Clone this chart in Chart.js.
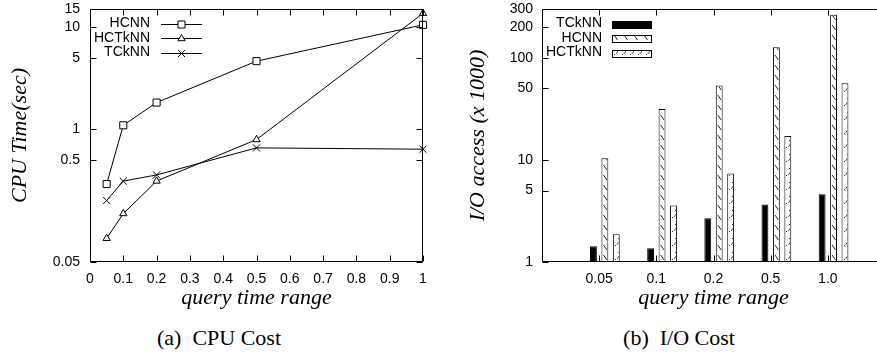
<!DOCTYPE html>
<html>
<head>
<meta charset="utf-8">
<script src="https://cdn.jsdelivr.net/npm/chart.js@4.4.1/dist/chart.umd.min.js"></script>
<style>
    html, body { margin: 0; padding: 0; background: #fff; }
    #quadro { position: relative; width: 877px; height: 356px; overflow: hidden; background: #fff; }
    #quadro canvas { position: absolute; top: 0; }
    #graficoCpu { left: 0; }
    #graficoIo { left: 440px; }
    .legenda {
        position: absolute; top: 325px; line-height: 26px;
        font-family: 'Liberation Serif', 'Times New Roman', serif; font-size: 22px; color: #000;
        white-space: pre; transform: translateX(-50%);
    }
</style>
</head>
<body>
<div id="quadro">
    <canvas id="graficoCpu" width="440" height="312"></canvas>
    <canvas id="graficoIo" width="460" height="312"></canvas>
    <div class="legenda" style="left: 219px;">(a)  CPU Cost</div>
    <div class="legenda" style="left: 679px;">(b)  I/O Cost</div>
</div>
<script>
// (a) CPU Cost -- tempo de CPU por faixa de consulta
const faixasCpu = [0.05, 0.1, 0.2, 0.5, 1];
const cpuHCNN = [0.29, 1.09, 1.82, 4.63, 10.5];
const cpuHCTkNN = [0.085, 0.149, 0.31, 0.79, 13.6];
const cpuTCkNN = [0.20, 0.31, 0.356, 0.655, 0.636];
const ticksCpuX = [0, 0.1, 0.2, 0.3, 0.4, 0.5, 0.6, 0.7, 0.8, 0.9, 1];
const ticksCpuY = [0.05, 0.5, 1, 5, 10, 15];

// (b) I/O Cost -- acessos (x 1000)
const faixasIo = ['0.05', '0.1', '0.2', '0.5', '1.0'];
const ioTCkNN = [1.43, 1.36, 2.68, 3.65, 4.61];
const ioHCNN = [10.4, 31.4, 53.6, 127, 263];
const ioHCTkNN = [1.87, 3.57, 7.36, 17.1, 56.1];
const ticksIoY = [1, 5, 10, 50, 100, 200, 300];

(function () {
    const fonteEixo = { family: "'Liberation Sans', Arial, sans-serif", size: 14 };
    const fonteTitulo = { family: "'Liberation Serif', 'Times New Roman', serif", size: 22, style: 'italic' };
    const deslocBarras = 0.1;

    // hachuras desenhadas por barra, ancoradas no canto da propria barra
    function desenharHachura(ctx, tipo, x0, y0, w, h) {
        if (w <= 0 || h <= 0) return;
        ctx.save();
        ctx.beginPath();
        ctx.rect(x0, y0, w, h);
        ctx.clip();
        ctx.lineWidth = 1;
        if (tipo === 'barra') {
            ctx.strokeStyle = '#222';
            ctx.beginPath();
            for (let yy = y0 + h - 2; yy > y0 - 10; yy -= 10) {
                for (let xx = x0 + 1; xx < x0 + w; xx += 10) {
                    ctx.moveTo(xx, yy - 5);
                    ctx.lineTo(xx + 3.5, yy);
                }
            }
            ctx.stroke();
        } else if (tipo === 'pontos') {
            ctx.strokeStyle = '#555';
            ctx.fillStyle = '#333';
            ctx.beginPath();
            let linha = 0;
            for (let yy = y0 + h - 2; yy > y0 - 8; yy -= 7, linha++) {
                for (let xx = x0 + (linha % 2 ? 3 : 0); xx < x0 + w; xx += 8) {
                    ctx.fillRect(Math.round(xx + 1), Math.round(yy - 1), 1, 1);
                    ctx.moveTo(xx + 3, yy - 1);
                    ctx.lineTo(xx + 5, yy - 4);
                }
            }
            ctx.stroke();
        }
        ctx.restore();
    }

    function marcador(ctx, tipo, x, y) {
        ctx.beginPath();
        if (tipo === 'rect') {
            ctx.rect(x - 3.5, y - 3.5, 7, 7);
            ctx.fillStyle = '#fff'; ctx.fill(); ctx.stroke();
        } else if (tipo === 'triangle') {
            ctx.moveTo(x, y - 4); ctx.lineTo(x + 3.6, y + 2.2); ctx.lineTo(x - 3.6, y + 2.2); ctx.closePath();
            ctx.fillStyle = '#fff'; ctx.fill(); ctx.stroke();
        } else {
            ctx.moveTo(x - 3.5, y - 3.5); ctx.lineTo(x + 3.5, y + 3.5);
            ctx.moveTo(x + 3.5, y - 3.5); ctx.lineTo(x - 3.5, y + 3.5);
            ctx.stroke();
        }
    }

    // moldura do grafico com marcas de escala para dentro (estilo gnuplot)
    function molduraPlugin(espelharY) {
        return {
            id: 'moldura',
            afterDatasetsDraw(chart) {
                const { ctx, chartArea: a, scales } = chart;
                ctx.save();
                ctx.strokeStyle = '#000';
                ctx.lineWidth = 1;
                const l = Math.round(a.left) + 0.5, r = Math.round(a.right) - 0.5;
                const t = Math.round(a.top) + 0.5, b = Math.round(a.bottom) - 0.5;
                ctx.beginPath();
                ctx.rect(l, t, r - l, b - t);
                scales.x.ticks.forEach(tk => {
                    const x = Math.round(scales.x.getPixelForValue(tk.value)) + 0.5;
                    ctx.moveTo(x, b); ctx.lineTo(x, b - 6);
                    ctx.moveTo(x, t); ctx.lineTo(x, t + 6);
                });
                scales.y.ticks.forEach(tk => {
                    const y = Math.round(scales.y.getPixelForValue(tk.value)) + 0.5;
                    ctx.moveTo(l, y); ctx.lineTo(l + 6, y);
                    if (espelharY) { ctx.moveTo(r, y); ctx.lineTo(r - 6, y); }
                });
                ctx.stroke();
                ctx.restore();
            }
        };
    }

    const hachuraPlugin = {
        id: 'hachuraBarras',
        afterDatasetsDraw(chart) {
            const ctx = chart.ctx;
            chart.data.datasets.forEach((ds, i) => {
                if (!ds.hachura) return;
                chart.getDatasetMeta(i).data.forEach(bar => {
                    const { x, y, base, width } = bar.getProps(['x', 'y', 'base', 'width']);
                    desenharHachura(ctx, ds.hachura, x - width / 2 + 1, y + 1, width - 2, base - y - 1);
                });
            });
        }
    };

    function legendaPlugin(desenhaAmostra, xTexto) {
        return {
            id: 'legendaGnuplot',
            afterDraw(chart) {
                const ctx = chart.ctx;
                ctx.save();
                ctx.font = "14px 'Liberation Sans', Arial, sans-serif";
                ctx.textAlign = 'right';
                ctx.textBaseline = 'middle';
                chart.data.datasets.forEach((ds, i) => {
                    const y = 23.5 + i * 14.5;
                    ctx.fillStyle = '#000';
                    ctx.fillText(ds.label, xTexto, y);
                    desenhaAmostra(ctx, ds, y);
                });
                ctx.restore();
            }
        };
    }

    function escalaComum(ticksLista, ajuste) {
        return {
            afterBuildTicks: s => { s.ticks = ticksLista.map(v => ({ value: v })); },
            grid: { display: false, drawTicks: false },
            border: { display: false },
            ...ajuste
        };
    }

    // tamanho fixo da escala e sem folga extra para os rotulos das pontas
    function fixarLargura(w) {
        return s => { s.width = w; s.paddingTop = 0; s.paddingBottom = 0; };
    }
    function fixarAltura(h) {
        return s => { s.height = h; s.paddingLeft = 0; s.paddingRight = 0; };
    }

    function serieCpu(nome, valores, estilo, raio) {
        return {
            label: nome,
            data: valores.map((v, i) => ({ x: faixasCpu[i], y: v })),
            borderColor: '#000',
            borderWidth: 1,
            pointStyle: estilo,
            pointRadius: raio,
            pointBorderWidth: 1,
            pointBorderColor: '#000',
            pointBackgroundColor: '#fff',
            tension: 0,
            clip: false,
        };
    }

    function iniciarCpu() {
        const el = document.getElementById('graficoCpu');
        new Chart(el, {
            type: 'line',
            data: {
                datasets: [
                    serieCpu('HCNN', cpuHCNN, 'rect', 5),
                    serieCpu('HCTkNN', cpuHCTkNN, 'triangle', 4.2),
                    serieCpu('TCkNN', cpuTCkNN, 'crossRot', 5),
                ],
            },
            options: {
                responsive: false,
                animation: false,
                layout: { padding: { left: 0, top: 9, right: 17, bottom: 0 } },
                plugins: { legend: { display: false }, tooltip: { enabled: false } },
                scales: {
                    x: escalaComum(ticksCpuX, {
                        type: 'linear', min: 0, max: 1, offset: false,
                        afterFit: fixarAltura(50),
                        ticks: { color: '#000', font: fonteEixo, autoSkip: false, maxRotation: 0, padding: 9, callback: v => String(v) },
                        title: { display: true, text: 'query time range', color: '#000', font: fonteTitulo, padding: { top: 0, bottom: 1 } },
                    }),
                    y: escalaComum(ticksCpuY, {
                        type: 'logarithmic', min: 0.05, max: 15,
                        afterFit: fixarLargura(90),
                        ticks: { color: '#000', font: fonteEixo, autoSkip: false, padding: 10, callback: v => String(v) },
                        title: { display: true, text: 'CPU Time(sec)', color: '#000', font: fonteTitulo, padding: { top: 7, bottom: 0 } },
                    }),
                },
            },
            plugins: [
                molduraPlugin(true),
                legendaPlugin((ctx, ds, y) => {
                    ctx.strokeStyle = '#000';
                    ctx.lineWidth = 1;
                    ctx.beginPath();
                    ctx.moveTo(161, Math.round(y) + 0.5);
                    ctx.lineTo(202, Math.round(y) + 0.5);
                    ctx.stroke();
                    marcador(ctx, ds.pointStyle, 181.5, Math.round(y) + 0.5);
                }, 150),
            ],
        });
    }

    function serieIo(nome, valores, fundo, hachura) {
        return {
            label: nome,
            data: valores.map((v, i) => ({ x: i + 1 + deslocBarras, y: v })),
            backgroundColor: fundo,
            borderColor: '#000',
            borderWidth: 1,
            categoryPercentage: 0.6,
            barPercentage: 0.6,
            hachura: hachura,
        };
    }

    function iniciarIo() {
        const el = document.getElementById('graficoIo');
        new Chart(el, {
            type: 'bar',
            data: {
                datasets: [
                    serieIo('TCkNN', ioTCkNN, '#000', null),
                    serieIo('HCNN', ioHCNN, '#fff', 'barra'),
                    serieIo('HCTkNN', ioHCTkNN, '#fff', 'pontos'),
                ],
            },
            options: {
                responsive: false,
                animation: false,
                layout: { padding: { left: 0, top: 9, right: 15, bottom: 0 } },
                plugins: { legend: { display: false }, tooltip: { enabled: false } },
                scales: {
                    x: escalaComum(faixasIo.map((_, i) => i + 1), {
                        type: 'linear', min: 0, max: 6, offset: false,
                        afterFit: fixarAltura(50),
                        ticks: { color: '#000', font: fonteEixo, autoSkip: false, maxRotation: 0, padding: 9, callback: v => faixasIo[v - 1] },
                        title: { display: true, text: 'query time range', color: '#000', font: fonteTitulo, padding: { top: 0, bottom: 1 } },
                    }),
                    y: escalaComum(ticksIoY, {
                        type: 'logarithmic', min: 1, max: 300,
                        afterFit: fixarLargura(102),
                        ticks: { color: '#000', font: fonteEixo, autoSkip: false, padding: 9, callback: v => String(v) },
                        title: { display: true, text: 'I/O access (x 1000)', color: '#000', font: fonteTitulo, padding: { top: 25, bottom: 0 } },
                    }),
                },
            },
            plugins: [
                hachuraPlugin,
                molduraPlugin(false),
                legendaPlugin((ctx, ds, y) => {
                    const yy = Math.round(y - 3) + 0.5;
                    ctx.fillStyle = ds.backgroundColor;
                    ctx.fillRect(172, yy, 40, 7);
                    if (ds.hachura) desenharHachura(ctx, ds.hachura, 173, yy + 0.5, 38, 6);
                    ctx.strokeStyle = '#000';
                    ctx.lineWidth = 1;
                    ctx.strokeRect(172.5, yy, 39, 7);
                }, 162),
            ],
        });
    }

    document.addEventListener('DOMContentLoaded', () => {
        if (typeof Chart !== 'function') return;
        iniciarCpu();
        iniciarIo();
    });
})();
</script>
</body>
</html>
